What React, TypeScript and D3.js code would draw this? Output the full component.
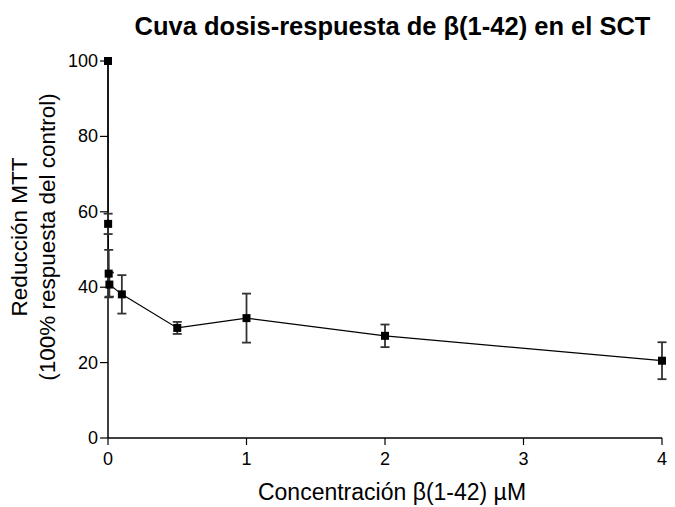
import * as d3 from "d3";

// concentrations (µM) and MTT reduction (% of control) with SEM
const conc = [0, 0.001, 0.005, 0.01, 0.1, 0.5, 1, 2, 4];
const resp = [100, 56.8, 43.6, 40.7, 38.1, 29.2, 31.8, 27.1, 20.5];
const err = [0, 2.7, 6.3, 3.2, 5.1, 1.6, 6.5, 3.0, 4.9];
const xTicks = [0, 1, 2, 3, 4];
const yTicks = [0, 20, 40, 60, 80, 100];

const width = 675;
const height = 507;
const margin = { top: 61, left: 108 };
const innerW = 554;
const innerH = 377;

const x = d3.scaleLinear().domain([0, 4]).range([0, innerW]);
const y = d3.scaleLinear().domain([0, 100]).range([innerH, 0]);

const FONT = "Liberation Sans, Arial, sans-serif";

export default function App() {
  const pts = conc.map((c, i) => ({ c, r: resp[i], e: err[i] }));
  const line = d3.line<{ c: number; r: number }>()
    .x((d) => x(d.c))
    .y((d) => y(d.r));

  return (
    <svg width={width} height={height} style={{ position: "absolute", left: 0, top: 0, background: "#fff" }}
      fontFamily={FONT}>
      <text x={392.5} y={35} textAnchor="middle" fontSize={25.5} fontWeight="bold">
        Cuva dosis-respuesta de β(1-42) en el SCT
      </text>

      <g transform={`translate(${margin.left},${margin.top})`}>
        {/* y axis */}
        <line x1={0} x2={0} y1={0} y2={innerH} stroke="#000" strokeWidth={1.5} />
        {yTicks.map((t) => (
          <g key={t}>
            <line x1={-8} x2={0} y1={y(t)} y2={y(t)} stroke="#000" strokeWidth={1.2} />
            <text x={-10} y={y(t)} textAnchor="end" dominantBaseline="central" fontSize={18}>{t}</text>
          </g>
        ))}

        {/* x axis */}
        <line x1={0} x2={innerW} y1={innerH} y2={innerH} stroke="#000" strokeWidth={1.5} />
        {xTicks.map((t) => (
          <g key={t}>
            <line x1={x(t)} x2={x(t)} y1={innerH} y2={innerH + 7} stroke="#000" strokeWidth={1.2} />
            <text x={x(t)} y={innerH + 27} textAnchor="middle" fontSize={18}>{t}</text>
          </g>
        ))}

        {/* data line */}
        <path d={line(pts) ?? ""} fill="none" stroke="#000" strokeWidth={1.2} />

        {/* error bars */}
        {pts.filter((d) => d.e > 0).map((d, i) => (
          <g key={i} stroke="#333" strokeWidth={1.8}>
            <line x1={x(d.c)} x2={x(d.c)} y1={y(d.r + d.e)} y2={y(d.r - d.e)} />
            <line x1={x(d.c) - 4.5} x2={x(d.c) + 4.5} y1={y(d.r + d.e)} y2={y(d.r + d.e)} />
            <line x1={x(d.c) - 4.5} x2={x(d.c) + 4.5} y1={y(d.r - d.e)} y2={y(d.r - d.e)} />
          </g>
        ))}

        {/* markers */}
        {pts.map((d, i) => (
          <rect key={i} x={x(d.c) - 4} y={y(d.r) - 4} width={8} height={8} fill="#000" />
        ))}
      </g>

      {/* axis titles */}
      <text transform="translate(27,237) rotate(-90)" textAnchor="middle" fontSize={22.5}>
        Reducción MTT
      </text>
      <text transform="translate(55,237) rotate(-90)" textAnchor="middle" fontSize={22.5}>
        (100% respuesta del control)
      </text>
      <text x={392} y={500} textAnchor="middle" fontSize={23}>
        Concentración β(1-42) µM
      </text>
    </svg>
  );
}
